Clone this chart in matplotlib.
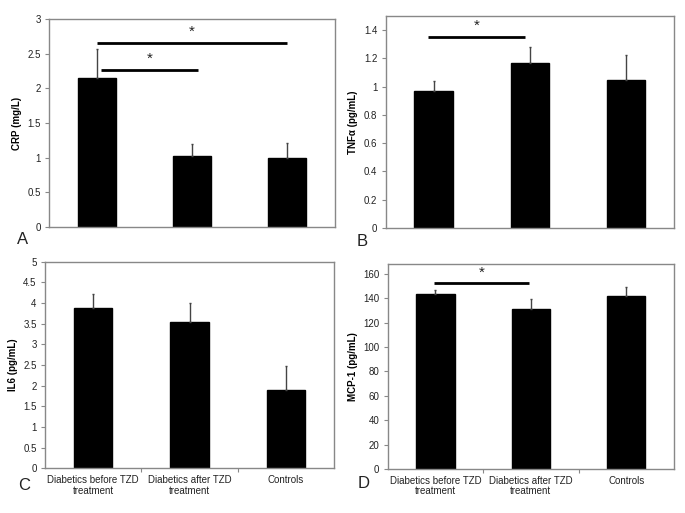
import matplotlib
matplotlib.use("Agg")
import matplotlib.pyplot as plt
import numpy as np

plt.rcParams['font.family'] = ['Liberation Sans', 'DejaVu Sans']

categories = ["Diabetics before TZD\ntreatment", "Diabetics after TZD\ntreatment", "Controls"]

crp_mean = [2.15, 1.03, 0.99]
crp_err = [0.42, 0.17, 0.22]
tnf_mean = [0.97, 1.17, 1.05]
tnf_err = [0.07, 0.11, 0.17]
il6_mean = [3.88, 3.55, 1.90]
il6_err = [0.35, 0.44, 0.58]
mcp_mean = [143.5, 131.0, 141.5]
mcp_err = [3.0, 8.0, 8.0]

panels = [
    dict(name="A", ylabel="CRP (mg/L)", mean=crp_mean, err=crp_err, ylim=3.0,
         yticks=[0, 0.5, 1, 1.5, 2, 2.5, 3], ticklabels=["0", "0.5", "1", "1.5", "2", "2.5", "3"],
         sig=[(0, 2, 2.66, 2.81), (0.05, 1.06, 2.27, 2.42)], xlab=False,
         pos=[0.0715, 0.5575, 0.4175, 0.4055], letter=(17, 240)),
    dict(name="B", ylabel="TNF\u03b1 (pg/mL)", mean=tnf_mean, err=tnf_err, ylim=1.5,
         yticks=[0, 0.2, 0.4, 0.6, 0.8, 1.0, 1.2, 1.4],
         ticklabels=["0", "0.2", "0.4", "0.6", "0.8", "1", "1.2", "1.4"],
         sig=[(-0.06, 0.95, 1.35, 1.43)], xlab=False,
         pos=[0.563, 0.5556, 0.421, 0.4134], letter=(357, 241)),
    dict(name="C", ylabel="IL6 (pg/mL)", mean=il6_mean, err=il6_err, ylim=5.0,
         yticks=[0, 0.5, 1, 1.5, 2, 2.5, 3, 3.5, 4, 4.5, 5],
         ticklabels=["0", "0.5", "1", "1.5", "2", "2.5", "3", "3.5", "4", "4.5", "5"],
         sig=[], xlab=True,
         pos=[0.0657, 0.0871, 0.4219, 0.4028], letter=(18, 486)),
    dict(name="D", ylabel="MCP-1 (pg/mL)", mean=mcp_mean, err=mcp_err, ylim=168,
         yticks=[0, 20, 40, 60, 80, 100, 120, 140, 160],
         ticklabels=["0", "20", "40", "60", "80", "100", "120", "140", "160"],
         sig=[(-0.02, 0.98, 152.6, 160.5)], xlab=True,
         pos=[0.566, 0.0858, 0.418, 0.3996], letter=(358, 484)),
]

fig = plt.figure(figsize=(6.85, 5.13), dpi=100)
x = np.arange(len(categories))
for p in panels:
    ax = fig.add_axes(p["pos"])
    ax.bar(x, p["mean"], width=0.4, color="black", edgecolor="black", zorder=2)
    ax.errorbar(x, p["mean"], yerr=[np.zeros(3), p["err"]], fmt="none",
                ecolor="#444444", elinewidth=1.0, capsize=1.0, capthick=1.0, zorder=3)
    ax.set_xlim(-0.5, 2.5)
    ax.set_ylim(0, p["ylim"])
    ax.set_yticks(p["yticks"])
    ax.set_yticklabels(p["ticklabels"], fontsize=7, color="#222222")
    ax.tick_params(axis="y", length=3, width=0.8, color="#888888", pad=3)
    if p["xlab"]:
        ax.set_xticks([0.5, 1.5], minor=False)
        ax.set_xticklabels(["", ""])
        ax.set_xticks(x, minor=True)
        ax.set_xticklabels(categories, minor=True, fontsize=7, color="#222222",
                           linespacing=1.05)
        ax.tick_params(axis="x", which="major", length=3, width=0.8, color="#888888")
        ax.tick_params(axis="x", which="minor", length=0, pad=5)
    else:
        ax.set_xticks([])
    for s in ax.spines.values():
        s.set_color("#888888")
        s.set_linewidth(1.0)
    ax.set_ylabel(p["ylabel"], fontsize=7, fontweight="bold", labelpad=4)
    for (x0, x1, yl, ys) in p["sig"]:
        ax.plot([x0, x1], [yl, yl], color="black", lw=2, solid_capstyle="butt", zorder=4)
        ax.text((x0 + x1) / 2, ys, "*", ha="center", va="center", fontsize=11, color="#222222")
    fig.text(p["letter"][0] / 685, 1 - p["letter"][1] / 513, p["name"], fontsize=12,
             ha="left", va="center", color="#222222")

fig.savefig("out.png", dpi=100)
